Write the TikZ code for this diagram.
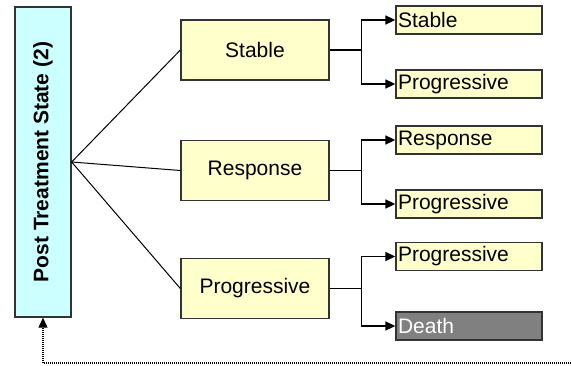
\documentclass[tikz,border=0pt]{standalone}
\usepackage{fontspec}
\setmainfont{Liberation Sans}
\usetikzlibrary{arrows.meta,positioning}
\definecolor{ptcyan}{HTML}{CCFFFF}
\definecolor{ptyellow}{HTML}{FFFFCC}
\definecolor{ptgray}{HTML}{808080}
\definecolor{ptedge}{HTML}{333333}

\tikzset{
  statebox/.style={draw=ptedge,line width=1.3pt,fill=ptyellow,
    minimum width=148pt,minimum height=60pt,inner sep=0pt,
    font=\fontsize{21}{24}\selectfont},
  outbox/.style={draw=ptedge,line width=1.3pt,fill=ptyellow,
    text width=142pt,minimum height=28pt,inner sep=2pt,align=left,
    font=\fontsize{21}{24}\selectfont},
  fan/.style={draw=black,line width=1pt},
  branch/.style={draw=black,line width=1.6pt,-{Triangle[length=10pt,width=9pt]}},
  backlink/.style={draw=black,line width=1.1pt,dash pattern=on 1pt off 1pt,
    -{Triangle[length=10pt,width=9pt]}}
}

\begin{document}
\begin{tikzpicture}[x=1pt,y=-1pt]
  \useasboundingbox (0,0) rectangle (571,365);

  % ---- post treatment state (left) ----
  \node[draw=ptedge,line width=1.3pt,fill=ptcyan,rotate=90,
    minimum width=310pt,minimum height=56pt,inner sep=0pt,
    font=\fontsize{21}{24}\selectfont\bfseries] (post) at (43,162)
    {Post Treatment State (2)};

  % ---- middle states ----
  \node[statebox] (stab) at (255,50) {Stable};
  \node[statebox] (resp) at (255,170.5) {Response};
  \node[statebox] (prog) at (255,288.5) {Progressive};

  % ---- outcomes ----
  \node[outbox] (stabA) at (469,20) {Stable};
  \node[outbox] (stabB) at (469,84) {Progressive};
  \node[outbox] (respA) at (469,140) {Response};
  \node[outbox] (respB) at (469,204) {Progressive};
  \node[outbox] (progA) at (469,256.5) {Progressive};
  \node[outbox,fill=ptgray,text=white] (progB) at (469,326) {Death};

  % fan out from the left box
  \draw[fan] (post.south) -- (stab.west);
  \draw[fan] (post.south) -- (resp.west);
  \draw[fan] (post.south) -- (prog.west);

  % forks
  \draw[line width=1.6pt] (stab.east) -- ++(32,0) coordinate (stabfork);
  \draw[branch] (stabfork) |- (stabA.west);
  \draw[branch] (stabfork) |- (stabB.west);
  \draw[line width=1.6pt] (resp.east) -- ++(32,0) coordinate (respfork);
  \draw[branch] (respfork) |- (respA.west);
  \draw[branch] (respfork) |- (respB.west);
  \draw[line width=1.6pt] (prog.east) -- ++(32,0) coordinate (progfork);
  \draw[branch] (progfork) |- (progA.west);
  \draw[branch] (progfork) |- (progB.west);

  % loop back
  \coordinate (back) at (571,363);
  \draw[backlink] (back) -| (post.west);
\end{tikzpicture}
\end{document}
